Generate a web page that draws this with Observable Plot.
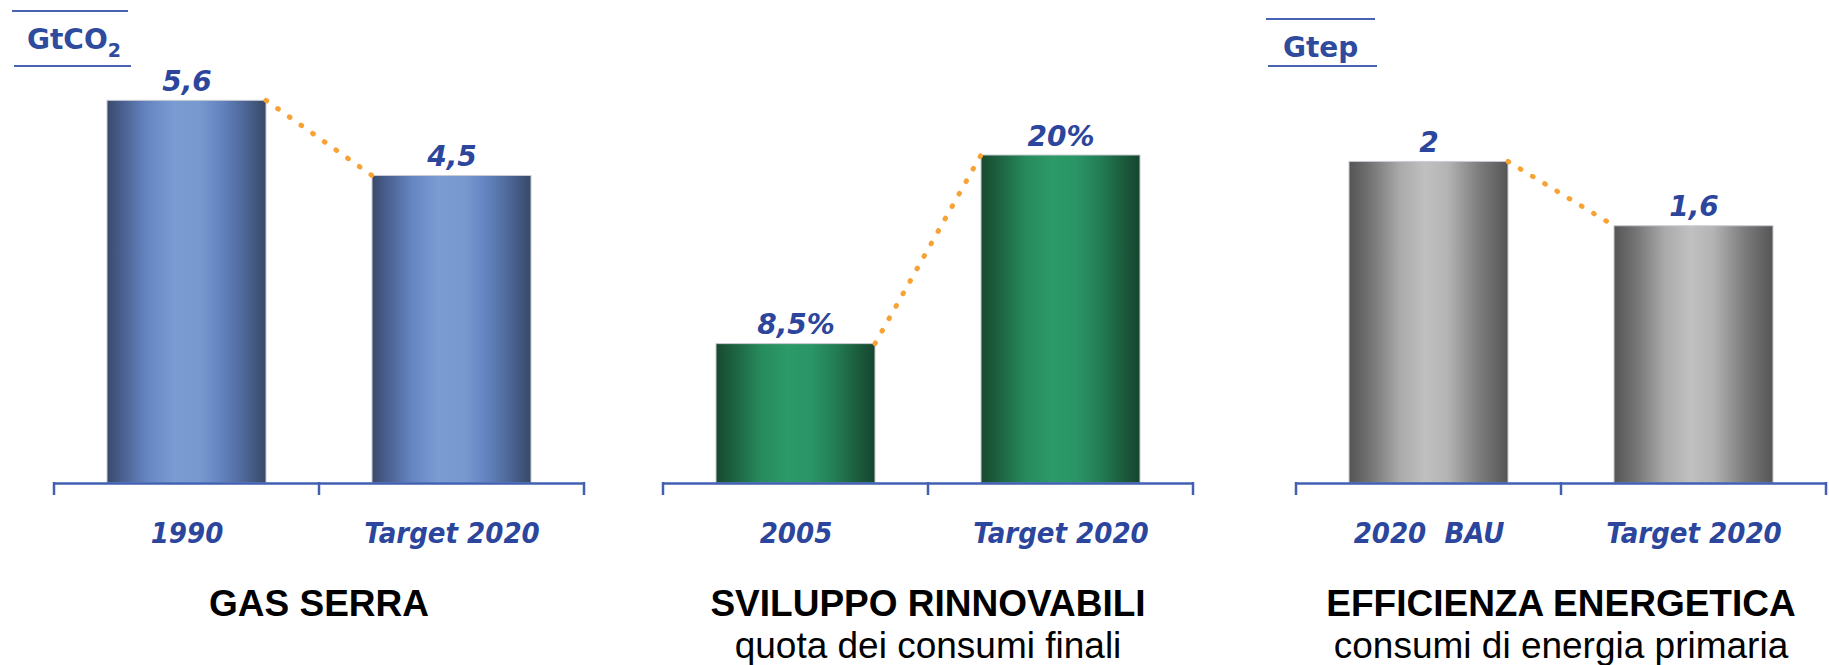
<!DOCTYPE html>
<html>
<head>
<meta charset="utf-8">
<script src="https://cdn.jsdelivr.net/npm/d3@7"></script>
<script src="https://cdn.jsdelivr.net/npm/@observablehq/plot@0.6"></script>
<style>
  html, body { margin: 0; padding: 0; background: #fff; overflow: hidden; }
  #chart { position: relative; width: 1829px; height: 665px; background: #fff; overflow: hidden; }
  #chart svg { position: absolute; top: 0; overflow: visible; }
  [aria-label="x-axis tick label"] text {
    font-family: "DejaVu Sans Condensed", "DejaVu Sans", sans-serif;
    font-stretch: condensed;
    font-weight: bold;
    font-style: italic;
    font-size: 29px;
    fill: #2b469c;
    white-space: pre;
  }
  .title { position: absolute; text-align: center; font-family: "Liberation Sans", Arial, sans-serif;
           font-size: 37px; line-height: 37px; color: #000; white-space: nowrap; }
  .title.bold { font-weight: bold; }
  .unit-line { position: absolute; height: 2px; background: #4863b4; }
  .unit-text { position: absolute; font-family: "DejaVu Sans", Verdana, sans-serif; font-weight: bold;
               font-size: 28px; line-height: 28px; color: #2e4b9e; white-space: nowrap; }
  .unit-text sub { font-size: 19px; vertical-align: -8px; line-height: 0; }
</style>
</head>
<body>
<div id="chart"></div>
<script>
// ---------------- data ----------------
const panelTitles = ["GAS SERRA", "SVILUPPO RINNOVABILI", "EFFICIENZA ENERGETICA"];
const panelSubtitles = ["", "quota dei consumi finali", "consumi di energia primaria"];
const panelUnits = ["GtCO2", "", "Gtep"];

const categoriesGas = ["1990", "Target 2020"];
const valuesGas = [5.6, 4.5];

const categoriesRenew = ["2005", "Target 2020"];
const valuesRenew = [8.5, 20];

const categoriesEff = ["2020  BAU", "Target 2020"];
const valuesEff = [2, 1.6];

const valueSuffixes = ["", "%", ""];
const yDomainMax = [6, 25, 2.55];

// ---------------- styling / layout ----------------
const gradients = [
  {id: "gradBlue", stops: [[0, "#39496b"], [0.1, "#4a6190"], [0.25, "#6585c2"], [0.42, "#7a9cd2"], [0.58, "#7799cf"], [0.72, "#6383c0"], [0.87, "#4c6594"], [1, "#384867"]]},
  {id: "gradGreen", stops: [[0, "#174a30"], [0.12, "#1d6342"], [0.28, "#268a5c"], [0.45, "#2c9a69"], [0.6, "#2a9566"], [0.75, "#237d54"], [0.9, "#1b5a3b"], [1, "#164530"]]},
  {id: "gradGray", stops: [[0, "#545454"], [0.14, "#757575"], [0.32, "#aaaaaa"], [0.48, "#c0c0c0"], [0.62, "#b4b4b4"], [0.82, "#7c7c7c"], [1, "#555555"]]}
];
const svgLefts = [24, 633, 1266];
const W = 562, H = 560, ML = 30, MR = 2, MT = 73, MB = 77;
const axisColor = "#4260b3";
const labelColor = "#2b469c";

const locale = d3.formatLocale({decimal: ",", thousands: ".", grouping: [3], currency: ["", "€"]});
const fmt = locale.format("~g");

const panels = [
  {cats: categoriesGas, vals: valuesGas},
  {cats: categoriesRenew, vals: valuesRenew},
  {cats: categoriesEff, vals: valuesEff}
].map((p, i) => ({
  ...p,
  data: p.cats.map((c, j) => ({cat: c, value: p.vals[j]})),
  title: panelTitles[i], subtitle: panelSubtitles[i], unit: panelUnits[i],
  suffix: valueSuffixes[i], yMax: yDomainMax[i], grad: gradients[i], left: svgLefts[i]
}));

const bw = (s) => typeof s.bandwidth === "function" ? s.bandwidth() : s.bandwidth;
const st = (s) => typeof s.step === "function" ? s.step() : s.step;

function defsMark(grad) {
  return () => {
    const defs = d3.create("svg:defs");
    const lg = defs.append("linearGradient").attr("id", grad.id)
      .attr("x1", 0).attr("x2", 1).attr("y1", 0).attr("y2", 0);
    for (const [o, c] of grad.stops) lg.append("stop").attr("offset", o).attr("stop-color", c);
    return defs.node();
  };
}

function bandTicksMark() {
  return (index, scales) => {
    const {x, y} = scales;
    const [r0, r1] = x.range();
    const gap = st(x) - bw(x);
    const xs = [r0, ...x.domain().slice(1).map(c => x(c) - gap / 2), r1];
    const y0 = y(0);
    const g = d3.create("svg:g");
    for (const xv of xs) {
      g.append("line").attr("x1", xv).attr("x2", xv).attr("y1", y0 - 1).attr("y2", y0 + 12)
        .attr("stroke", axisColor).attr("stroke-width", 2.5);
    }
    return g.node();
  };
}

function connectorMark(cats, vals) {
  return (index, scales) => {
    const {x, y} = scales;
    const g = d3.create("svg:g");
    g.append("line")
      .attr("x1", x(cats[0]) + bw(x)).attr("y1", y(vals[0]))
      .attr("x2", x(cats[1])).attr("y2", y(vals[1]))
      .attr("stroke", "#f7a234").attr("stroke-width", 5)
      .attr("stroke-linecap", "round").attr("stroke-dasharray", "0.8 13.5");
    return g.node();
  };
}

const chart = document.getElementById("chart");

panels.forEach((p) => {
  const svg = Plot.plot({
    width: W, height: H,
    marginLeft: ML, marginRight: MR, marginTop: MT, marginBottom: MB,
    style: {background: "transparent", overflow: "visible"},
    x: {domain: p.cats, paddingInner: 0.4, paddingOuter: 0.2, round: false, label: null},
    y: {domain: [0, p.yMax], axis: null},
    marks: [
      defsMark(p.grad),
      Plot.barY(p.data, {x: "cat", y: "value", fill: `url(#${p.grad.id})`, stroke: "#c9ccd3", strokeWidth: 1}),
      Plot.ruleY([0], {stroke: axisColor, strokeWidth: 2.5}),
      bandTicksMark(),
      connectorMark(p.cats, p.vals),
      Plot.text(p.data, {
        x: "cat", y: "value", text: d => fmt(d.value) + p.suffix,
        dy: -10, lineAnchor: "bottom", fill: labelColor,
        fontFamily: "DejaVu Sans", fontSize: 28, fontWeight: "bold", fontStyle: "italic"
      }),
      Plot.axisX({tickSize: 0, tickPadding: 39, label: null})
    ]
  });
  svg.style.left = p.left + "px";
  chart.appendChild(svg);

  const t = document.createElement("div");
  t.className = "title bold";
  t.style.left = (p.left + ML) + "px";
  t.style.width = (W - ML - MR) + "px";
  t.style.top = "585px";
  t.textContent = p.title;
  chart.appendChild(t);

  if (p.subtitle) {
    const s = document.createElement("div");
    s.className = "title";
    s.style.left = (p.left + ML) + "px";
    s.style.width = (W - ML - MR) + "px";
    s.style.top = "627px";
    s.textContent = p.subtitle;
    chart.appendChild(s);
  }
});

// unit labels (panel 1 and 3)
const unitLayout = [
  {line1: [12, 10, 116], line2: [14, 65, 117], text: [27, 26]},
  null,
  {line1: [1266, 18, 109], line2: [1268, 65, 109], text: [1283, 34]}
];
panels.forEach((p, i) => {
  const L = unitLayout[i];
  if (!p.unit || !L) return;
  for (const [l, tp, w] of [L.line1, L.line2]) {
    const d = document.createElement("div");
    d.className = "unit-line";
    d.style.left = l + "px"; d.style.top = tp + "px"; d.style.width = w + "px";
    chart.appendChild(d);
  }
  const tx = document.createElement("div");
  tx.className = "unit-text";
  tx.style.left = L.text[0] + "px"; tx.style.top = L.text[1] + "px";
  const m = p.unit.match(/^(.*?)(\d)$/);
  if (m) {
    tx.appendChild(document.createTextNode(m[1]));
    const sub = document.createElement("sub");
    sub.textContent = m[2];
    tx.appendChild(sub);
  } else {
    tx.textContent = p.unit;
  }
  chart.appendChild(tx);
});
</script>
</body>
</html>
